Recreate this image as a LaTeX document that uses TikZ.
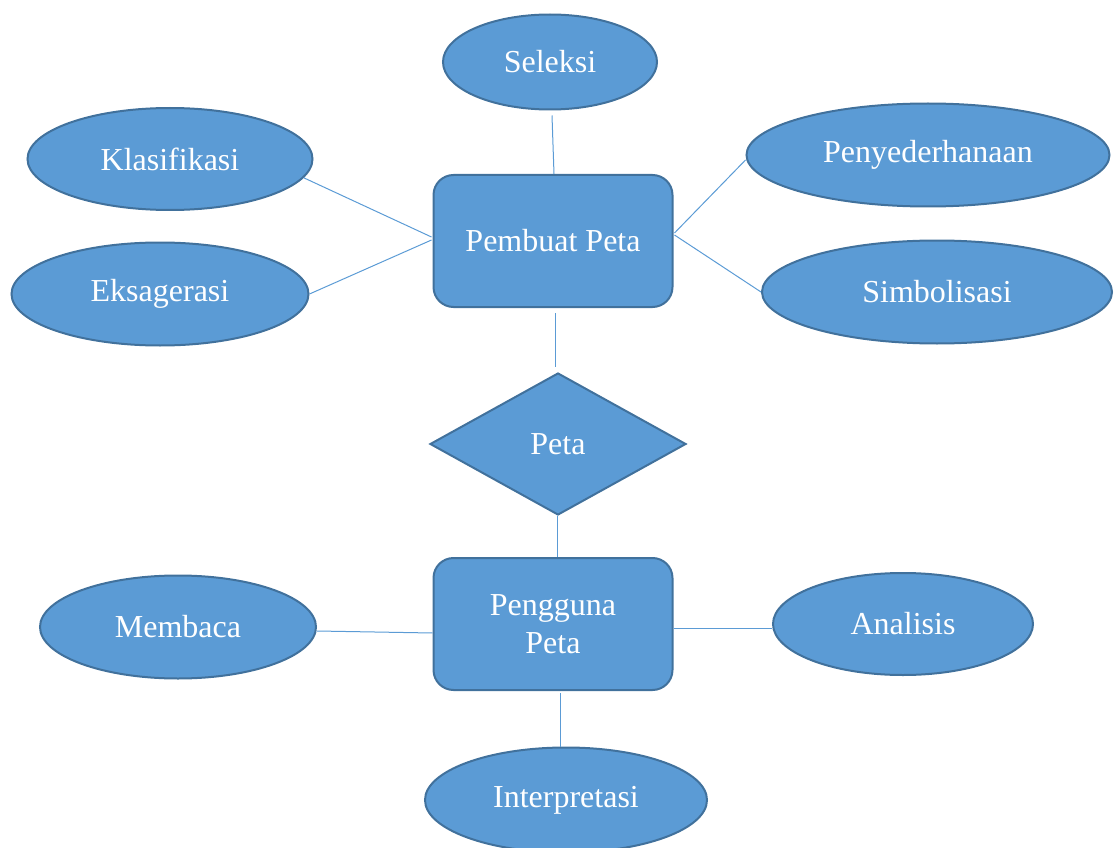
\documentclass[tikz,border=0pt]{standalone}
\usepackage{fontspec}
\setmainfont{Liberation Serif}
\usetikzlibrary{shapes.geometric}
\definecolor{fillblue}{HTML}{5B9BD5}
\definecolor{edgeblue}{HTML}{41719C}
\begin{document}
\begin{tikzpicture}[x=1pt,y=-1pt,
  base/.style={fill=fillblue,draw=edgeblue,line width=2pt,text=white,inner sep=0pt,
    font=\fontsize{32}{38}\selectfont,align=center},
  oval/.style={base,ellipse},
  box/.style={base,rectangle,rounded corners=20pt,minimum width=239pt,minimum height=132pt},
  rhomb/.style={base,diamond,minimum width=256pt,minimum height=142pt},
  link/.style={draw=fillblue,line width=1pt}]
\useasboundingbox (0,0) rectangle (1120,848);
\node[oval,minimum width=214pt,minimum height=95pt] (sel) at (550,62) {Seleksi};
\node[oval,minimum width=285pt,minimum height=102pt] (kla) at (170,159) {Klasifikasi};
\node[oval,minimum width=297pt,minimum height=103pt] (eks) at (160,294) {Eksagerasi};
\node[oval,minimum width=363pt,minimum height=103pt] (pen) at (928,155) {Penyederhanaan};
\node[oval,minimum width=350pt,minimum height=103pt] (sim) at (937,292) {Simbolisasi};
\node[box] (pb) at (553,241) {Pembuat Peta};
\node[rhomb] (peta) at (558,444) {Peta};
\node[box] (pg) at (553,624) {Pengguna\\Peta};
\node[oval,minimum width=276pt,minimum height=103pt] (mem) at (178,627) {Membaca};
\node[oval,minimum width=260pt,minimum height=102pt] (ana) at (903,624) {Analisis};
\node[oval,minimum width=282pt,minimum height=105pt] (int) at (566,800) {Interpretasi};
% connectors
\draw[link] ([xshift=2pt,yshift=-5pt]sel.south) -- ([xshift=1pt]pb.north);
\draw[link] (kla.-8) -- ([xshift=-1pt,yshift=4pt]pb.west);
\draw[link] (eks.east) -- ([xshift=-1pt,yshift=1pt]pb.west);
\draw[link] ([yshift=-5pt]pen.west) -- ([xshift=1pt,yshift=8pt]pb.east);
\draw[link] ([xshift=1pt,yshift=6pt]pb.east) -- (sim.west);
\draw[link] ([xshift=2pt,yshift=-5pt]pb.south) -- ([xshift=-3pt,yshift=5pt]peta.north);
\draw[link] ([xshift=-1pt]peta.south) -- ([xshift=4pt]pg.north);
\draw[link] ([yshift=-4pt]mem.east) -- ([yshift=-9pt]pg.west);
\draw[link] ([yshift=-4pt]pg.east) -- ([yshift=-4pt]ana.west);
\draw[link] ([xshift=7pt,yshift=-2pt]pg.south) -- ([xshift=-6pt]int.north);
\end{tikzpicture}
\end{document}
